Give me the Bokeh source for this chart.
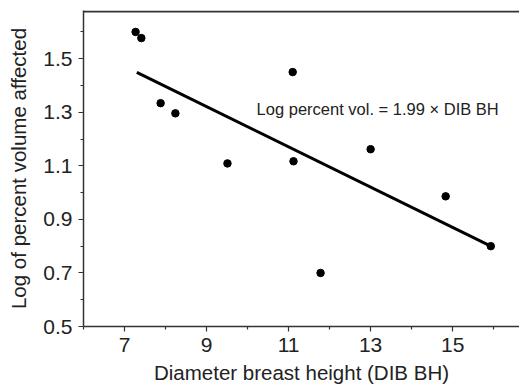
from bokeh.plotting import figure
from bokeh.models import FixedTicker, Range1d, ColumnDataSource, Span
from bokeh.core.properties import value
from bokeh.embed import file_html
from bokeh.resources import INLINE

# data
dib_bh = [7.27, 7.41, 7.88, 8.24, 9.51, 11.10, 11.12, 11.78, 13.00, 14.83, 15.93]
log_pct_vol = [1.600, 1.577, 1.334, 1.296, 1.109, 1.450, 1.117, 0.700, 1.162, 0.986, 0.800]
fit_x = [7.30, 15.93]
fit_y = [1.449, 0.800]
x_major = [7, 9, 11, 13, 15]
x_minor = [6, 8, 10, 12, 14, 16]
y_major = [0.5, 0.7, 0.9, 1.1, 1.3, 1.5]
y_minor = [0.6, 0.8, 1.0, 1.2, 1.4, 1.6]
x_tick_labels = ["7", "9", "11", "13", "15"]
y_tick_labels = ["0.5", "0.7", "0.9", "1.1", "1.3", "1.5"]
equation = "Log percent vol. = 1.99 \u00d7 DIB BH"
eq_pos = (10.22, 1.314)
x_title = "Diameter breast height (DIB BH)"
y_title = "Log of percent volume affected"

FONT = "Liberation Sans"
AX = "#333333"
TXT = "#222222"
X_END, Y_END = 16.63, 1.680

p = figure(width=519, height=386, output_backend="svg", toolbar_location=None,
           x_range=Range1d(6, X_END), y_range=Range1d(0.5, Y_END),
           min_border_left=83, min_border_right=0, min_border_top=10, min_border_bottom=0)
p.outline_line_color = None
p.grid.visible = False

xax = p.below[0]
yax = p.left[0]

# top frame border (slightly inside the frame so it is not clipped)
p.add_layout(Span(location=Y_END - 1.0 / 269, dimension="width", line_color=AX,
                  line_width=2, level="overlay"))

p.line(fit_x, fit_y, line_color="black", line_width=3)
p.scatter(dib_bh, log_pct_vol, size=7.5, color="black")
src = ColumnDataSource(dict(x=[eq_pos[0]], y=[eq_pos[1]], t=[equation]))
p.text(x="x", y="y", text="t", source=src, text_font=value(FONT), text_font_size="16.5px",
       text_baseline="middle", text_align="left", text_color=TXT)

xax.ticker = FixedTicker(ticks=x_major, minor_ticks=x_minor)
yax.ticker = FixedTicker(ticks=y_major, minor_ticks=y_minor)
xax.major_label_overrides = {t: l for t, l in zip(x_major, x_tick_labels)}
yax.major_label_overrides = {t: l for t, l in zip(y_major, y_tick_labels)}
xax.axis_label = x_title
yax.axis_label = y_title
for ax in (xax, yax):
    ax.axis_line_color = AX
    ax.axis_line_width = 1.5
    ax.major_tick_line_color = AX
    ax.minor_tick_line_color = AX
    ax.major_tick_line_width = 1.2
    ax.minor_tick_line_width = 1.2
    ax.major_tick_in = 0
    ax.major_tick_out = 5
    ax.minor_tick_in = 0
    ax.minor_tick_out = 3
    ax.major_label_text_font = FONT
    ax.major_label_text_font_size = "21px"
    ax.major_label_text_color = TXT
    ax.axis_label_text_font = FONT
    ax.axis_label_text_font_size = "20.5px"
    ax.axis_label_text_font_style = "normal"
    ax.axis_label_text_color = TXT
xax.major_label_standoff = 6
xax.axis_label_standoff = 6
yax.major_label_standoff = 6
yax.axis_label_standoff = 10

open("out.html", "w").write(file_html(p, INLINE))
